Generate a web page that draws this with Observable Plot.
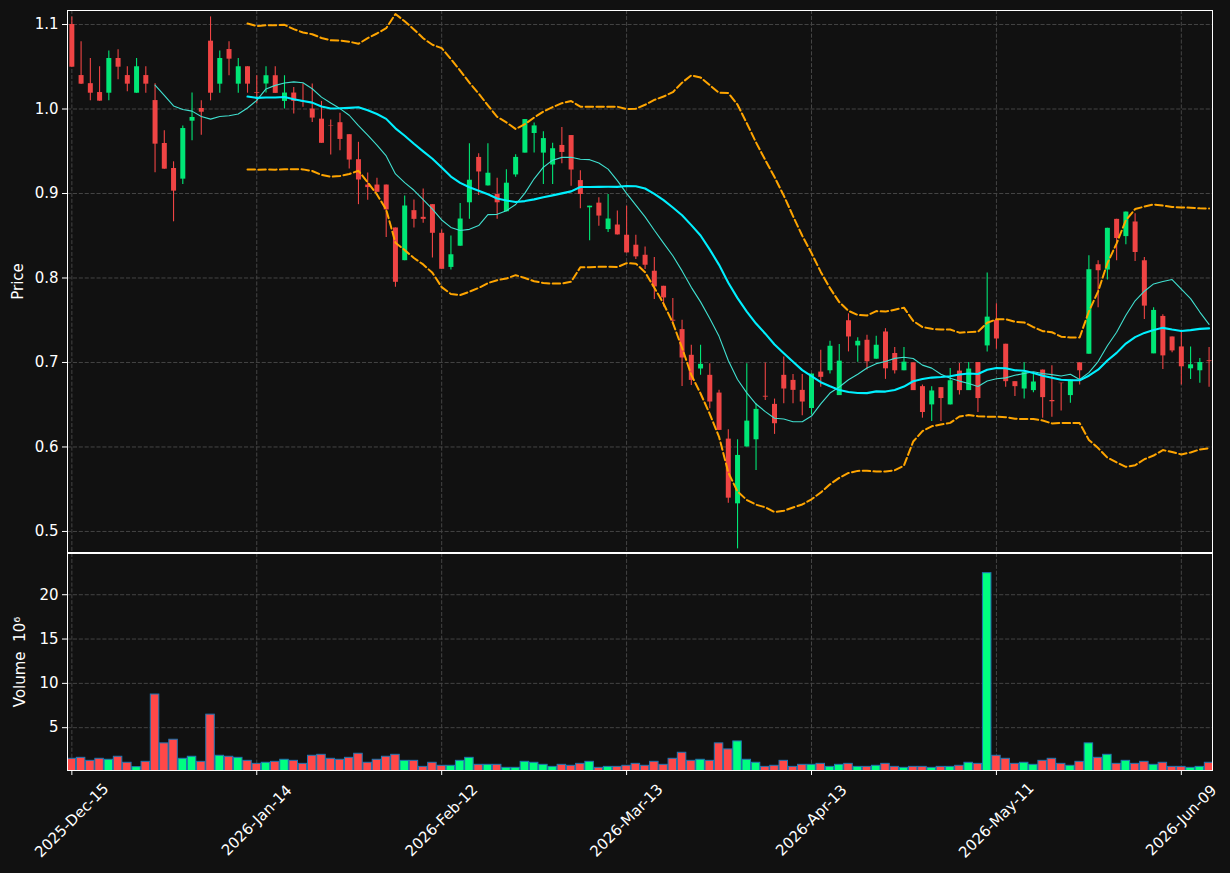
<!DOCTYPE html>
<html><head><meta charset="utf-8">
<script src="https://cdn.jsdelivr.net/npm/d3@7"></script>
<script src="https://cdn.jsdelivr.net/npm/@observablehq/plot@0.6"></script>
<style>
html,body{margin:0;padding:0;background:#111111;}
#wrap{position:relative;width:1230px;height:873px;overflow:hidden;background:#111111;}
#wrap svg{position:absolute;left:0;overflow:visible;}
</style></head><body><div id="wrap"></div>
<script>
// ---- data ----
const openP = [1.100,1.0396,1.030,1.0195,1.0187,1.0598,1.0396,1.0187,1.0396,1.010,
0.9592,0.9296,0.917,0.9856,1.0006,1.0803,1.0294,1.0704,1.0294,1.050,
1.0195,1.0296,1.0394,1.009,1.0189,1.009,1.000,0.988,0.9805,0.9838,
0.9696,0.940,0.910,0.910,0.910,0.8592,0.8205,0.8797,0.8718,0.8868,
0.8529,0.8125,0.8376,0.889,0.9427,0.909,0.8988,0.8784,0.922,0.9478,
0.971,0.9478,0.9337,0.9569,0.9686,0.9153,0.8831,0.8886,0.8573,0.8627,
0.8506,0.8388,0.8269,0.808,0.7902,0.750,0.7389,0.7085,0.6923,0.6848,
0.6638,0.6093,0.5327,0.600,0.6085,0.660,0.6504,0.6848,0.6788,0.667,
0.6455,0.6886,0.6902,0.6608,0.7494,0.7196,0.7263,0.7039,0.7361,0.7106,
0.6902,0.6996,0.6714,0.6498,0.6702,0.6498,0.6898,0.6667,0.700,0.7196,
0.7498,0.7216,0.6773,0.6686,0.6667,0.691,0.655,0.6755,0.6608,0.6996,
0.7098,0.8157,0.8094,0.8694,0.849,0.8663,0.8204,0.7102,0.7545,0.7302,
0.7184,0.6925,0.6902,0.702];
const highP = [1.109,1.0795,1.0598,1.050,1.0688,1.070,1.050,1.0598,1.050,1.030,
0.9742,0.9375,0.980,1.019,1.0097,1.109,1.0688,1.0795,1.0598,1.050,
1.0394,1.050,1.050,1.0394,1.0256,1.030,1.0296,1.009,0.987,0.995,
0.9696,0.9606,0.9243,0.918,0.910,0.8592,0.897,0.8923,0.9053,0.8868,
0.8568,0.8498,0.8882,0.9588,0.947,0.9588,0.918,0.9282,0.946,0.9875,
0.9835,0.973,0.9596,0.978,0.9686,0.927,0.885,0.8949,0.8988,0.8792,
0.885,0.8506,0.8368,0.8242,0.7902,0.7756,0.7499,0.7203,0.7203,0.6986,
0.667,0.6204,0.6085,0.6986,0.6512,0.6994,0.6567,0.7065,0.6859,0.6859,
0.6863,0.7145,0.7251,0.7212,0.7576,0.7294,0.7322,0.731,0.740,0.7176,
0.7176,0.6996,0.6733,0.6714,0.6702,0.6929,0.6988,0.700,0.700,0.8059,
0.7694,0.7216,0.6773,0.6996,0.6863,0.691,0.6961,0.6755,0.6792,0.6996,
0.8263,0.8204,0.8588,0.8694,0.878,0.8761,0.8243,0.7647,0.7565,0.7302,
0.7373,0.7184,0.7047,0.7176];
const lowP = [1.0495,1.029,1.0097,1.0093,1.0097,1.0345,1.0203,1.0187,1.0187,0.9245,
0.9288,0.8665,0.9107,0.9623,0.969,1.0097,1.0187,1.0393,1.0187,1.0187,
1.006,1.0189,1.0185,1.000,0.994,1.002,0.984,0.9594,0.9456,0.9507,
0.929,0.8868,0.892,0.9014,0.848,0.789,0.8205,0.8592,0.8647,0.8237,
0.8103,0.8094,0.8376,0.8694,0.8976,0.909,0.8694,0.8784,0.9192,0.9478,
0.9478,0.9106,0.9106,0.9353,0.9086,0.882,0.844,0.8612,0.8537,0.851,
0.8297,0.8218,0.81,0.7744,0.7657,0.746,0.6717,0.6729,0.6848,0.6453,
0.6196,0.5335,0.4794,0.600,0.5722,0.6551,0.6149,0.6512,0.6512,0.637,
0.638,0.6706,0.6863,0.6608,0.7125,0.7004,0.691,0.7039,0.680,0.6863,
0.6902,0.6667,0.6341,0.6302,0.6302,0.6498,0.6616,0.6667,0.6408,0.7125,
0.7157,0.6706,0.6596,0.6569,0.6643,0.6341,0.6353,0.6427,0.6518,0.6733,
0.7098,0.7647,0.7976,0.8204,0.8392,0.8196,0.751,0.7102,0.6918,0.7114,
0.6733,0.680,0.6753,0.6706];
const closeP = [1.0495,1.0294,1.0187,1.0093,1.0598,1.0495,1.0294,1.050,1.0294,0.9584,
0.9288,0.9028,0.9769,0.990,0.9962,1.0187,1.0598,1.059,1.050,1.0294,
1.0187,1.0394,1.0185,1.0189,1.009,1.008,0.9893,0.9594,0.980,0.964,
0.9396,0.916,0.907,0.9014,0.8805,0.7949,0.8852,0.8694,0.8694,0.8529,
0.8103,0.8275,0.8698,0.9157,0.9255,0.924,0.889,0.9122,0.9427,0.9875,
0.980,0.965,0.953,0.9486,0.9278,0.8988,0.885,0.8733,0.8698,0.851,
0.8297,0.825,0.8151,0.7894,0.7764,0.749,0.7053,0.6788,0.6978,0.6532,
0.6196,0.5394,0.590,0.6306,0.6445,0.659,0.6275,0.6686,0.667,0.6532,
0.6863,0.6824,0.7192,0.7016,0.7302,0.7251,0.7008,0.7204,0.6925,0.6902,
0.7004,0.6667,0.6408,0.6663,0.6573,0.6784,0.6667,0.6922,0.6573,0.7537,
0.7278,0.6773,0.6714,0.6882,0.6769,0.6584,0.6535,0.675,0.6792,0.6902,
0.8098,0.8086,0.8588,0.8467,0.878,0.8302,0.7667,0.7616,0.7078,0.7137,
0.6949,0.6973,0.700,0.701];
const volumeM = [1.49,1.60,1.26,1.49,1.38,1.72,1.04,0.55,1.15,8.74,
3.23,3.64,1.49,1.72,1.15,6.47,1.83,1.72,1.60,1.26,
0.92,1.04,1.15,1.38,1.26,0.92,1.83,1.94,1.49,1.38,
1.60,2.06,1.04,1.38,1.72,1.94,1.26,1.26,0.58,1.04,
0.70,0.70,1.26,1.60,0.81,0.81,0.81,0.47,0.47,1.15,
1.04,0.81,0.58,0.81,0.70,0.92,1.15,0.47,0.58,0.58,
0.70,0.92,0.70,1.15,0.81,1.49,2.17,1.26,1.38,1.26,
3.23,2.55,3.45,1.38,1.04,0.58,0.70,1.26,0.58,0.81,
0.81,0.92,0.58,0.81,0.92,0.58,0.58,0.70,0.92,0.58,
0.47,0.58,0.58,0.47,0.58,0.58,0.70,1.04,0.92,22.43,
1.83,1.49,0.92,1.04,0.81,1.26,1.49,0.92,0.70,1.15,
3.23,1.60,1.94,0.92,1.26,0.92,1.15,0.81,1.04,0.58,
0.58,0.47,0.58,1.04];
const tickIdx = [0,20,40,60,80,100,120];
const tickLabels = ["2025-Dec-15","2026-Jan-14","2026-Feb-12","2026-Mar-13","2026-Apr-13","2026-May-11","2026-Jun-09"];
const priceTicks = [0.5,0.6,0.7,0.8,0.9,1.0,1.1];
const volTicks = [5,10,15,20];

// ---- derived ----
const bars = closeP.map((c,i)=>({i, open:openP[i], high:highP[i], low:lowP[i], close:c, vol:volumeM[i], up:c>=openP[i]}));
function rolling(k){
  const out=[];
  for(let i=k-1;i<closeP.length;i++){
    const w=closeP.slice(i-k+1,i+1);
    const m=d3.mean(w);
    const sd=Math.sqrt(d3.mean(w,v=>(v-m)*(v-m)));
    out.push({i, m, upper:m+2*sd, lower:m-2*sd});
  }
  return out;
}
const ma10 = rolling(10);
const ma20 = rolling(20);

const UP="#00e676", DOWN="#ef4444", VUP="#00ff80", VDOWN="#ff4848";
const GRID={stroke:"#444444", strokeOpacity:1, strokeWidth:1, strokeDasharray:"4.1,1.8"};
const xDomain=[-0.47,123.37];
const common={width:1230, marginLeft:67, marginRight:18,
  style:"background:transparent;color:white;font-family:'DejaVu Sans',sans-serif;font-size:15px;overflow:visible;"};

const price = Plot.plot({
  ...common, height:553, marginTop:10, marginBottom:1,
  x:{type:"linear", domain:xDomain, axis:null},
  y:{type:"linear", domain:[0.4751,1.1166], axis:null},
  color:{type:"identity"},
  marks:[
    Plot.gridY(priceTicks, GRID),
    Plot.gridX(tickIdx, GRID),
    Plot.axisY(priceTicks, {tickFormat:d3.format(".1f"), tickSize:5, tickPadding:4, label:null, stroke:"white", fill:"white", fontSize:15}),
    Plot.ruleX(bars, {x:"i", y1:"low", y2:"high", stroke:d=>d.up?UP:DOWN, strokeWidth:1.1, clip:true}),
    Plot.ruleX(bars, {x:"i", y1:"open", y2:"close", stroke:d=>d.up?UP:DOWN, strokeWidth:5, clip:true}),
    Plot.line(ma10, {x:"i", y:"m", stroke:"#40e0d0", strokeWidth:1.1, clip:true}),
    Plot.line(ma20, {x:"i", y:"m", stroke:"#00f0ff", strokeWidth:2.1, clip:true}),
    Plot.line(ma20, {x:"i", y:"upper", stroke:"#ffa500", strokeWidth:2, strokeDasharray:"7.5,3.3", clip:true}),
    Plot.line(ma20, {x:"i", y:"lower", stroke:"#ffa500", strokeWidth:2, strokeDasharray:"7.5,3.3", clip:true}),
    Plot.frame({stroke:"white", strokeWidth:1}),
    Plot.text(["Price"], {frameAnchor:"left", dx:-49, rotate:-90, fill:"white", textAnchor:"middle", fontSize:15})
  ]
});
price.style.top="0px";

const vol = Plot.plot({
  ...common, height:321, marginTop:1, marginBottom:103,
  x:{type:"linear", domain:xDomain, axis:null},
  y:{type:"linear", domain:[0.17,24.65], axis:null},
  color:{type:"identity"},
  marks:[
    Plot.gridY(volTicks, GRID),
    Plot.gridX(tickIdx, GRID),
    Plot.rect(bars, {x1:d=>d.i-0.46, x2:d=>d.i+0.46, y1:0, y2:"vol", fill:d=>d.up?VUP:VDOWN, stroke:"#1f77b4", strokeWidth:1, clip:true}),
    Plot.axisY(volTicks, {tickSize:5, tickPadding:4, label:null, stroke:"white", fill:"white", fontSize:15}),
    Plot.axisX(tickIdx, {tickSize:5, label:null, stroke:"white", fill:"none"}),
    Plot.text(tickIdx, {x:d=>d, text:(d,i)=>tickLabels[i], frameAnchor:"bottom", dy:50, rotate:-45, textAnchor:"middle", lineAnchor:"middle", fill:"white", fontSize:15}),
    Plot.frame({stroke:"white", strokeWidth:1}),
    Plot.text(["Volume  10\u2076"], {frameAnchor:"left", dx:-47, rotate:-90, fill:"white", textAnchor:"middle", fontSize:15})
  ]
});
vol.style.top="552px";

const wrap=document.getElementById("wrap");
wrap.appendChild(price);
wrap.appendChild(vol);
</script></body></html>
